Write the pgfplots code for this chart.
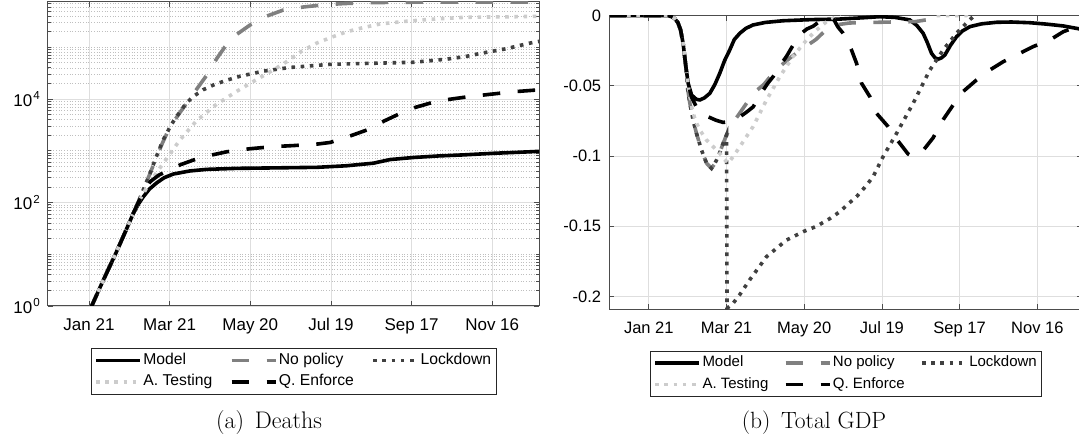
\documentclass[border=0pt]{standalone}
\usepackage{fontspec}
\usepackage{pgfplots}
\pgfplotsset{compat=1.18}
\newfontfamily\arial{Liberation Sans}
\definecolor{cNoPol}{gray}{0.5}
\definecolor{cLock}{gray}{0.25}
\definecolor{cTest}{gray}{0.8}
\definecolor{axc}{gray}{0.3}
\definecolor{gridc}{gray}{0.87}
\definecolor{gridm}{gray}{0.75}
\newcommand\tp[1]{10\kern1pt\raisebox{6.6pt}{\fontsize{11.6}{12}\selectfont #1}}
\pgfplotsset{
  modelst/.style={black, line width=3.6pt, solid},
  nopolst/.style={cNoPol, line width=3.6pt, dash pattern=on 17.5pt off 17.5pt},
  lockst/.style={cLock, line width=3.6pt, dash pattern=on 3.6pt off 5.6pt},
  testst/.style={cTest, line width=3.6pt, dash pattern=on 3.6pt off 5.6pt},
  qest/.style={black, line width=3.6pt, dash pattern=on 17.5pt off 17.5pt},
  common/.style={
    scale only axis,
    xmin=-30.5, xmax=334.8,
    xtick={0,60,120,180,240,300},
    xticklabels={Jan 21, Mar 21, May 20, Jul 19, Sep 17, Nov 16},
    axis line style={axc, line width=1pt},
    tick align=inside,
    tick style={axc, line width=0.8pt},
    major tick length=5pt, minor tick length=3pt,
    major grid style={gridc, line width=0.8pt},
    minor grid style={gridm, line width=0.7pt, dotted},
    every tick label/.append style={inner sep=0pt},
    xticklabel style={anchor=north, yshift=-12pt},
    yticklabel style={anchor=east, xshift=-8pt},
    legend columns=3,
    legend cell align=left,
    legend image code/.code={\draw[##1, line width=3.6pt] (0pt,0pt) -- (44pt,0pt);},
  }
}
\begin{document}
\begin{tikzpicture}
\path[use as bounding box] (0pt,0pt) rectangle (1079pt,438pt);
% ---------------- (a) Deaths ----------------
\begin{axis}[common,
  at={(48pt,132pt)}, anchor=south west,
  width=491pt, height=304pt,
  ymode=log, ymin=1, ymax=7.5e5,
  ytick={1,100,10000},
  yticklabels={\tp{0},\tp{2},\tp{4}},
  minor ytick={2,3,4,5,6,7,8,9,10,20,30,40,50,60,70,80,90,200,300,400,500,600,700,800,900,1000,2000,3000,4000,5000,6000,7000,8000,9000,2e4,3e4,4e4,5e4,6e4,7e4,8e4,9e4,1e5,2e5,3e5,4e5,5e5,6e5,7e5},
  xmajorgrids, ymajorgrids, yminorgrids,
  tick label style={font=\arial\fontsize{17}{20}\selectfont},
  legend style={at={(0.5,0)}, anchor=north, yshift=-42pt,
    draw=black!85, fill=white,
    inner xsep=3pt, inner ysep=1.5pt,
    font=\arial\fontsize{15.7}{18}\selectfont,
    nodes={inner xsep=1.5pt, inner ysep=1.95pt, text height=12.5pt, text depth=5pt},
    /tikz/every even column/.append style={column sep=16pt}},
]
\addplot[modelst] coordinates {(-10,0.2) (2,1) (10,2.9) (20,10.5) (28,31) (33,62) (37,95) (40.4,129) (45,182) (50.4,240) (56,302) (62.7,355) (75,407) (87.6,437) (110,457) (142,468) (170,479) (191.7,513) (211.5,575) (224,676) (241.3,741) (260,794) (278.5,832) (300,891) (328,955) (336,977)};
\addlegendentry{Model}
\addplot[nopolst] coordinates {(-10,0.2) (2,1) (10,2.9) (20,10.5) (28,31) (33,62) (37,107) (40,166) (45.4,363) (50.4,776) (55,1479) (60,2818) (67.7,5495) (77.6,12589) (87.6,28840) (95,60256) (101.2,102329) (110,177828) (119.8,269153) (132,398107) (144.6,524807) (160,602560) (174.3,660693) (190,699842) (204,724436) (230,741310) (266,748000) (336,749000)};
\addlegendentry{No policy}
\addplot[lockst] coordinates {(-10,0.2) (2,1) (10,2.9) (20,10.5) (28,31) (33,62) (37,107) (40,166) (45.4,363) (50,759) (55,1585) (60.3,2884) (64,4169) (67.7,5623) (72,8128) (77.6,11220) (85,15136) (92.5,18621) (102,22909) (112.4,27542) (130,34674) (149.6,40738) (179.3,46774) (210,48978) (241.3,51286) (266,58884) (280,66069) (291,75858) (310,93325) (328,120226) (336,131826)};
\addlegendentry{Lockdown}
\addplot[testst] coordinates {(-10,0.2) (2,1) (10,2.9) (20,10.5) (28,31) (33,62) (37,105) (40.4,148) (45.4,251) (55.3,575) (67.7,1622) (80,3802) (95,7943) (110,14125) (125,23988) (137,36308) (147,52481) (158,83176) (169.4,120226) (180,154882) (191.7,199526) (204,239883) (216.5,281838) (235,316228) (253.7,346737) (280,380189) (316,389045) (336,398107)};
\addlegendentry{A. Testing}
\addplot[qest] coordinates {(-10,0.2) (2,1) (10,2.9) (20,10.5) (28,31) (33,62) (37,105) (40.4,151) (45.4,251) (52,339) (60.3,427) (68,537) (77.6,661) (90,813) (102.4,955) (120,1096) (137,1202) (152,1259) (170,1349) (179.3,1445) (189.2,1738) (198,2089) (206.6,2512) (220,3802) (231.4,5248) (243,6918) (253.7,8318) (267,9772) (281,10965) (298,12303) (315.7,13804) (336,15136)};
\addlegendentry{Q. Enforce}
\end{axis}
% ---------------- (b) Total GDP ----------------
\begin{axis}[common,
  at={(609.3pt,128.7pt)}, anchor=south west,
  width=473.1pt, height=293.6pt,
  ymin=-0.2091, ymax=0,
  ytick={-0.2,-0.15,-0.1,-0.05,0},
  yticklabels={-0.2,-0.15,-0.1,-0.05,0},
  xmajorgrids, ymajorgrids,
  tick label style={font=\arial\fontsize{16.5}{19}\selectfont},
  legend style={at={(0.5,0)}, anchor=north, yshift=-41.4pt,
    draw=black!85, fill=white,
    inner xsep=3pt, inner ysep=1.5pt,
    font=\arial\fontsize{15}{18}\selectfont,
    nodes={inner xsep=1.5pt, inner ysep=1.95pt, text height=12.5pt, text depth=5pt},
    /tikz/every even column/.append style={column sep=14pt}},
]
\addplot[modelst] coordinates {(-31,0) (15,0) (17.5,-0.0007) (20,-0.002) (22.5,-0.005) (24.5,-0.010) (26.5,-0.0197) (28.6,-0.0363) (30.4,-0.0482) (33,-0.0565) (36.8,-0.0596) (39.4,-0.0600) (43,-0.0585) (47.1,-0.0553) (51,-0.049) (54.8,-0.041) (58.5,-0.032) (62.5,-0.0244) (66,-0.017) (70.3,-0.0125) (75,-0.009) (80.5,-0.0066) (90,-0.0048) (103.7,-0.0036) (125,-0.0028) (147.5,-0.0024) (165,-0.0015) (178.4,-0.0007) (190,-0.0012) (201.5,-0.003) (207,-0.007) (211.8,-0.0125) (215,-0.019) (218.3,-0.0268) (221,-0.030) (223.4,-0.031) (226,-0.030) (228.6,-0.028) (233,-0.021) (237.6,-0.015) (242,-0.011) (247.9,-0.0078) (257,-0.0058) (268.5,-0.0047) (280,-0.0045) (294.2,-0.005) (307,-0.006) (320,-0.0073) (336,-0.010)};
\addlegendentry{Model}
\addplot[nopolst] coordinates {(-31,0) (15,0) (17.5,-0.0007) (20,-0.002) (22.5,-0.005) (24.5,-0.010) (26.5,-0.0197) (28.6,-0.0363) (30,-0.052) (31.7,-0.0624) (34.2,-0.0743) (36.8,-0.0838) (40.7,-0.0957) (44.6,-0.1051) (48.4,-0.1087) (50.5,-0.106) (52.3,-0.1028) (55,-0.097) (57.4,-0.0909) (60,-0.085) (65,-0.076) (69,-0.071) (75,-0.063) (81,-0.055) (88.8,-0.049) (95,-0.042) (102,-0.0355) (110,-0.0294) (121,-0.022) (129,-0.017) (137,-0.010) (145,-0.0065) (155,-0.0052) (182,-0.0046) (206,-0.0042) (214,-0.003) (220,0) (226,0.004) (336,0.004)};
\addlegendentry{No policy}
\addplot[lockst] coordinates {(-31,0) (15,0) (17.5,-0.0007) (20,-0.002) (22.5,-0.005) (24.5,-0.010) (26.5,-0.0197) (28.6,-0.0363) (30,-0.052) (31.7,-0.0624) (34.2,-0.0743) (36.8,-0.0838) (40.7,-0.0957) (44.6,-0.1051) (48.4,-0.1087) (50.5,-0.106) (52.3,-0.1028) (55,-0.097) (57.4,-0.0909) (60,-0.085) (60.4,-0.2084) (65.1,-0.2048) (70,-0.199) (78,-0.188) (90.9,-0.1716) (106.3,-0.1598) (120,-0.1535) (129.5,-0.150) (139.8,-0.1445) (147.5,-0.1396) (154,-0.134) (160.4,-0.1289) (167,-0.122) (173.2,-0.1147) (180.9,-0.1004) (191.3,-0.0838) (204.1,-0.0624) (217,-0.0387) (227.3,-0.0244) (237.6,-0.0125) (245,-0.0055) (250.4,-0.0007) (254,0.003) (336,0.004)};
\addlegendentry{Lockdown}
\addplot[testst] coordinates {(-31,0) (15,0) (17.5,-0.0007) (20,-0.002) (22.5,-0.005) (24.5,-0.010) (26.5,-0.0197) (28.6,-0.0363) (30.4,-0.050) (33,-0.0648) (36,-0.075) (39.4,-0.0814) (44.5,-0.0885) (49.7,-0.0933) (54.8,-0.098) (58,-0.102) (61.3,-0.105) (65.1,-0.1004) (70.3,-0.0933) (80.5,-0.079) (90.9,-0.060) (101.2,-0.0434) (111.4,-0.029) (121.8,-0.0173) (129.5,-0.0102) (137.2,-0.0043) (142.3,-0.0019) (146,0) (150,0.004) (216,0.004) (222,0) (245,0) (250,0.004) (336,0.004)};
\addlegendentry{A. Testing}
\addplot[qest] coordinates {(-31,0) (15,0) (17.5,-0.0007) (20,-0.002) (22.5,-0.005) (24.5,-0.010) (26.5,-0.0197) (28.6,-0.0363) (30.4,-0.0482) (33,-0.058) (36.8,-0.065) (40,-0.069) (45.8,-0.072) (52,-0.0745) (57.4,-0.076) (62,-0.0755) (66,-0.074) (70.3,-0.072) (75,-0.069) (80.5,-0.065) (84.5,-0.059) (88.3,-0.053) (92,-0.048) (96,-0.0434) (101,-0.036) (106.3,-0.029) (111.4,-0.021) (116.6,-0.0135) (122,-0.0095) (126.9,-0.0075) (132,-0.004) (137,-0.0015) (140,-0.001) (143,-0.003) (146,-0.008) (150,-0.0125) (156.5,-0.0244) (160.4,-0.0339) (164.2,-0.048) (170.7,-0.0577) (175.8,-0.0695) (184.8,-0.079) (192.5,-0.0893) (200.2,-0.0985) (203,-0.100) (206,-0.099) (211.8,-0.096) (219.5,-0.087) (227.3,-0.074) (235,-0.0636) (242.7,-0.054) (253,-0.0458) (263.3,-0.0387) (273.6,-0.0328) (286.5,-0.0268) (296.8,-0.022) (309.7,-0.0173) (320,-0.0114) (336,-0.006)};
\addlegendentry{Q. Enforce}
\end{axis}
\node[anchor=base, font=\fontsize{24}{28}\selectfont] at (269pt,9pt) {(a)\hspace{0.45em}Deaths};
\node[anchor=base, font=\fontsize{23.5}{28}\selectfont] at (814pt,9pt) {(b)\hspace{0.45em}Total GDP};
\end{tikzpicture}
\end{document}
